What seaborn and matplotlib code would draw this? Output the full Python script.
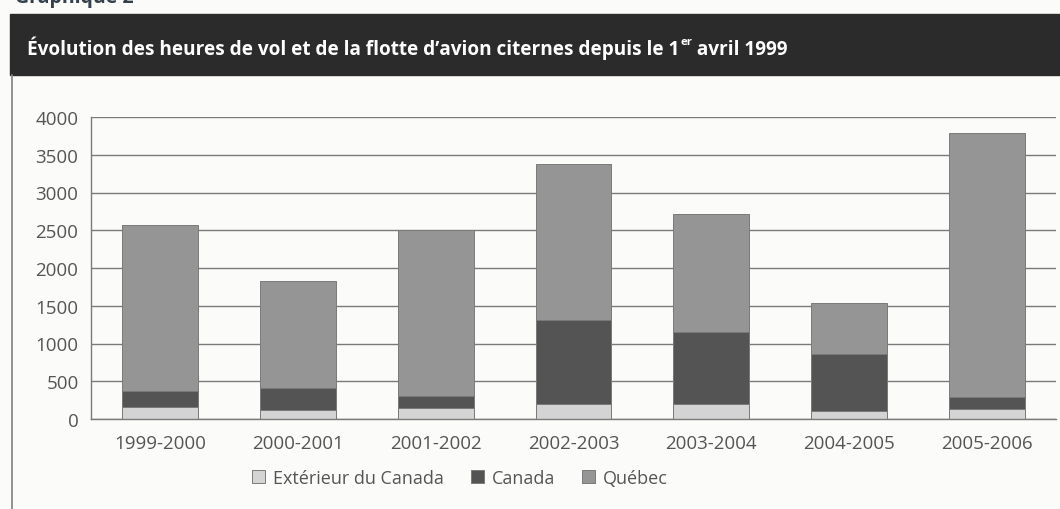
import numpy as np
import pandas as pd
import seaborn as sns
import matplotlib.pyplot as plt
from matplotlib.patches import Patch, Rectangle

# data (heures de vol)
periodes = ["1999-2000", "2000-2001", "2001-2002", "2002-2003",
            "2003-2004", "2004-2005", "2005-2006"]
exterieur = [155, 125, 140, 205, 195, 105, 130]
canada = [212, 286, 170, 1110, 955, 757, 160]
quebec = [2208, 1414, 2195, 2060, 1570, 668, 3500]

series = ["Extérieur du Canada", "Canada", "Québec"]
couleurs = ["#d4d4d4", "#545454", "#959595"]

df = pd.DataFrame({"periode": periodes, "ext": exterieur,
                   "can": canada, "qc": quebec})
df["bas2"] = df["ext"] + df["can"]
df["total"] = df["bas2"] + df["qc"]

sns.set_style("white")
plt.rcParams["font.family"] = ["Open Sans", "DejaVu Sans"]

fond = "#fbfbfa"
gris = "#7a7a7a"
texte = "#555555"

fig = plt.figure(figsize=(10.6, 5.1), dpi=100, facecolor=fond)
ax = fig.add_axes([91 / 1060, 1 - 420 / 510, (1056 - 91) / 1060, (420 - 118) / 510])
ax.set_facecolor(fond)

# bandeau du titre
fig.patches.append(Rectangle((10 / 1060, 1 - 76 / 510), 1, 61 / 510,
                             transform=fig.transFigure, color="#2b2b2b", zorder=-1))
# cadre gauche
fig.add_artist(plt.Line2D([11.5 / 1060, 11.5 / 1060], [0, 1 - 76 / 510],
                          transform=fig.transFigure, color="#8a8a8a", lw=1.3))

fig.text(15 / 1060, 1 - 3 / 510, "Graphique 2", fontsize=14, fontweight="bold",
         color="#34414d", va="baseline")

t1 = fig.text(27 / 1060, 1 - 55 / 510,
              "Évolution des heures de vol et de la flotte d\u2019avion citernes depuis le 1",
              fontsize=13.7, fontweight="bold", color="white", va="baseline")
t_er = ax.annotate("er", xy=(1, 0.5), xycoords=t1, xytext=(0.5, 0),
                   textcoords="offset points", fontsize=8.2, fontweight="bold",
                   color="white", va="bottom", ha="left", annotation_clip=False)
ax.annotate(" avril 1999", xy=(1, 0), xycoords=(t_er, t1), fontsize=13.7,
            fontweight="bold", color="white", va="bottom", ha="left",
            annotation_clip=False)

# barres empilees: total, puis bas2, puis exterieur par-dessus
for col, c in [("total", couleurs[2]), ("bas2", couleurs[1]), ("ext", couleurs[0])]:
    sns.barplot(data=df, x="periode", y=col, color=c, saturation=1, width=0.55,
                edgecolor=gris, linewidth=0.7, errorbar=None, ax=ax, zorder=3)

ax.set_xlim(-0.5, 6.5)
ax.set_ylim(0, 4000)
ax.set_yticks(np.arange(0, 4001, 500))
ax.set_xticks(np.arange(-0.5, 7, 1), minor=True)
ax.set_xlabel("")
ax.set_ylabel("")
ax.yaxis.grid(True, color=gris, lw=1.0)
ax.set_axisbelow(True)

for s in ["top", "right"]:
    ax.spines[s].set_visible(False)
for s in ["left", "bottom"]:
    ax.spines[s].set_color(gris)
    ax.spines[s].set_linewidth(1.0)
    ax.spines[s].set_zorder(4)

ax.tick_params(axis="x", which="major", length=0, pad=11, labelsize=13.5, labelcolor=texte)
ax.tick_params(axis="x", which="minor", length=5, width=1.0, color=gris, direction="out")
ax.tick_params(axis="y", length=5, width=1.0, color=gris, pad=4,
               labelsize=13.5, labelcolor=texte, direction="out")

handles = [Patch(facecolor=c, edgecolor=gris, lw=0.7) for c in couleurs]
fig.legend(handles, series, loc="center", bbox_to_anchor=(460 / 1060, 1 - 479 / 510),
           ncol=3, frameon=False, fontsize=13, labelcolor=texte,
           handlelength=0.7, handleheight=0.7, handletextpad=0.45, columnspacing=1.5)

fig.savefig("out.png", dpi=100, facecolor=fond)
